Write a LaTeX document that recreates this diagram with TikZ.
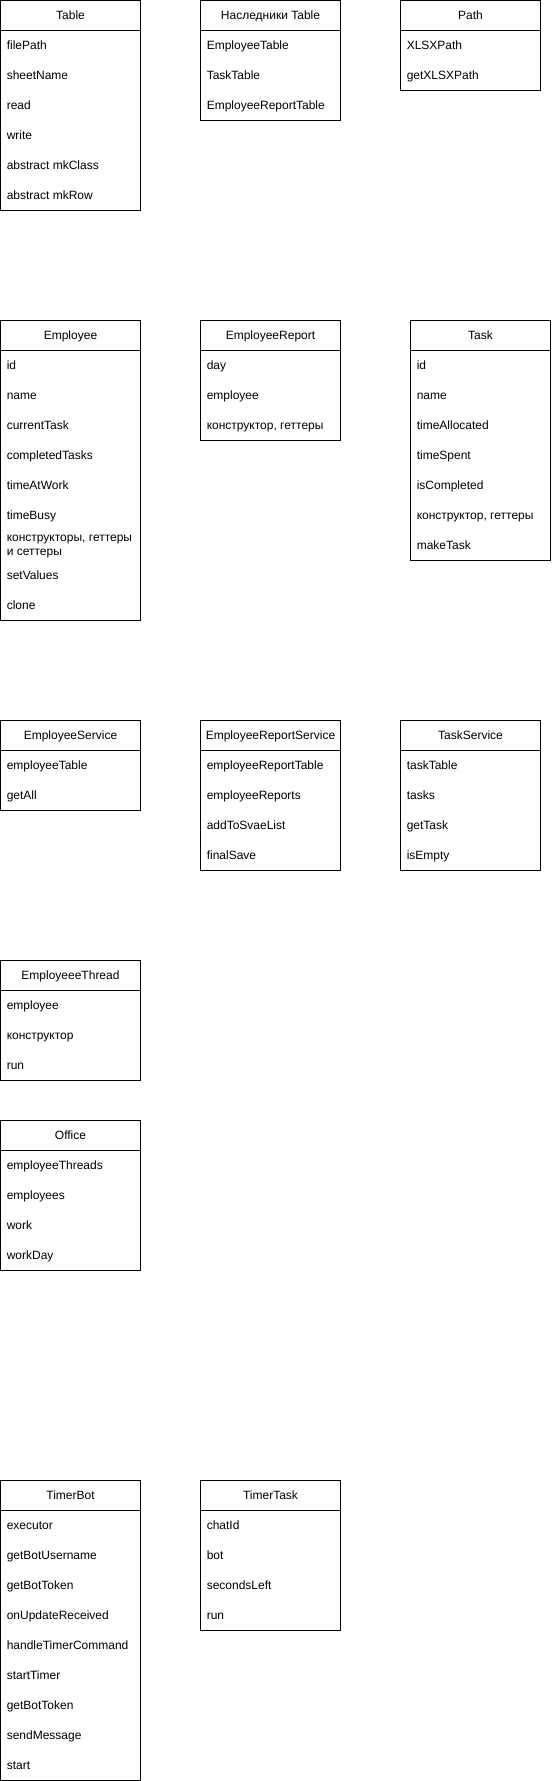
\documentclass[tikz,border=0pt]{standalone}
\usepackage{fontspec}
\setmainfont{Liberation Sans}
\usepackage{tikz}
\usetikzlibrary{positioning}

\tikzset{
    kopf/.style = {draw, line width = 0.75pt, anchor = north west, minimum width = 105pt, minimum height = 22.5pt, inner sep = 0pt, outer sep = 0pt, text height = 6.8pt, text depth = 1.4pt, font = \fontsize{9}{10.5}\selectfont},
    feld/.style = {anchor = west, inner sep = 0pt, text height = 6.8pt, text depth = 1.4pt, font = \fontsize{9}{10.5}\selectfont},
    rahmen/.style = {line width = 0.75pt}
}

\begin{document}
\begin{tikzpicture}[x = 0.75pt, y = -0.75pt]
    % Größe der Bildumgebung
        \useasboundingbox (-0.5, -0.5) rectangle (550.5, 1780.5);

    % Table
        \node[kopf] (table) at (0, 0) {Table};
        \draw[rahmen] (table.south west) rectangle ++(140, 180);
        \node[feld] (table-1) at (6, 45) {filePath};
        \node[feld] (table-2) at (6, 75) {sheetName};
        \node[feld] (table-3) at (6, 105) {read};
        \node[feld] (table-4) at (6, 135) {write};
        \node[feld] (table-5) at (6, 165) {abstract mkClass};
        \node[feld] (table-6) at (6, 195) {abstract mkRow};

    % Наследники Table
        \node[kopf] (erben) at (200, 0) {Наследники Table};
        \draw[rahmen] (erben.south west) rectangle ++(140, 90);
        \node[feld] (erben-1) at (206, 45) {EmployeeTable};
        \node[feld] (erben-2) at (206, 75) {TaskTable};
        \node[feld] (erben-3) at (206, 105) {EmployeeReportTable};

    % Path
        \node[kopf] (path) at (400, 0) {Path};
        \draw[rahmen] (path.south west) rectangle ++(140, 60);
        \node[feld] (path-1) at (406, 45) {XLSXPath};
        \node[feld] (path-2) at (406, 75) {getXLSXPath};

    % Employee
        \node[kopf] (employee) at (0, 320) {Employee};
        \draw[rahmen] (employee.south west) rectangle ++(140, 270);
        \node[feld] (employee-1) at (6, 365) {id};
        \node[feld] (employee-2) at (6, 395) {name};
        \node[feld] (employee-3) at (6, 425) {currentTask};
        \node[feld] (employee-4) at (6, 455) {completedTasks};
        \node[feld] (employee-5) at (6, 485) {timeAtWork};
        \node[feld] (employee-6) at (6, 515) {timeBusy};
        \node[feld, text height = , text depth = , align = left] (employee-7) at (6, 546) {конструкторы, геттеры\\и сеттеры};
        \node[feld] (employee-8) at (6, 575) {setValues};
        \node[feld] (employee-9) at (6, 605) {clone};

    % EmployeeReport
        \node[kopf] (report) at (200, 320) {EmployeeReport};
        \draw[rahmen] (report.south west) rectangle ++(140, 90);
        \node[feld] (report-1) at (206, 365) {day};
        \node[feld] (report-2) at (206, 395) {employee};
        \node[feld] (report-3) at (206, 425) {конструктор, геттеры};

    % Task
        \node[kopf] (task) at (410, 320) {Task};
        \draw[rahmen] (task.south west) rectangle ++(140, 210);
        \node[feld] (task-1) at (416, 365) {id};
        \node[feld] (task-2) at (416, 395) {name};
        \node[feld] (task-3) at (416, 425) {timeAllocated};
        \node[feld] (task-4) at (416, 455) {timeSpent};
        \node[feld] (task-5) at (416, 485) {isCompleted};
        \node[feld] (task-6) at (416, 515) {конструктор, геттеры};
        \node[feld] (task-7) at (416, 545) {makeTask};

    % EmployeeService
        \node[kopf] (empservice) at (0, 720) {EmployeeService};
        \draw[rahmen] (empservice.south west) rectangle ++(140, 60);
        \node[feld] (empservice-1) at (6, 765) {employeeTable};
        \node[feld] (empservice-2) at (6, 795) {getAll};

    % EmployeeReportService
        \node[kopf] (repservice) at (200, 720) {EmployeeReportService};
        \draw[rahmen] (repservice.south west) rectangle ++(140, 120);
        \node[feld] (repservice-1) at (206, 765) {employeeReportTable};
        \node[feld] (repservice-2) at (206, 795) {employeeReports};
        \node[feld] (repservice-3) at (206, 825) {addToSvaeList};
        \node[feld] (repservice-4) at (206, 855) {finalSave};

    % TaskService
        \node[kopf] (taskservice) at (400, 720) {TaskService};
        \draw[rahmen] (taskservice.south west) rectangle ++(140, 120);
        \node[feld] (taskservice-1) at (406, 765) {taskTable};
        \node[feld] (taskservice-2) at (406, 795) {tasks};
        \node[feld] (taskservice-3) at (406, 825) {getTask};
        \node[feld] (taskservice-4) at (406, 855) {isEmpty};

    % EmployeeeThread
        \node[kopf] (thread) at (0, 960) {EmployeeeThread};
        \draw[rahmen] (thread.south west) rectangle ++(140, 90);
        \node[feld] (thread-1) at (6, 1005) {employee};
        \node[feld] (thread-2) at (6, 1035) {конструктор};
        \node[feld] (thread-3) at (6, 1065) {run};

    % Office
        \node[kopf] (office) at (0, 1120) {Office};
        \draw[rahmen] (office.south west) rectangle ++(140, 120);
        \node[feld] (office-1) at (6, 1165) {employeeThreads};
        \node[feld] (office-2) at (6, 1195) {employees};
        \node[feld] (office-3) at (6, 1225) {work};
        \node[feld] (office-4) at (6, 1255) {workDay};

    % TimerBot
        \node[kopf] (bot) at (0, 1480) {TimerBot};
        \draw[rahmen] (bot.south west) rectangle ++(140, 270);
        \node[feld] (bot-1) at (6, 1525) {executor};
        \node[feld] (bot-2) at (6, 1555) {getBotUsername};
        \node[feld] (bot-3) at (6, 1585) {getBotToken};
        \node[feld] (bot-4) at (6, 1615) {onUpdateReceived};
        \node[feld] (bot-5) at (6, 1645) {handleTimerCommand};
        \node[feld] (bot-6) at (6, 1675) {startTimer};
        \node[feld] (bot-7) at (6, 1705) {getBotToken};
        \node[feld] (bot-8) at (6, 1735) {sendMessage};
        \node[feld] (bot-9) at (6, 1765) {start};

    % TimerTask
        \node[kopf] (timer) at (200, 1480) {TimerTask};
        \draw[rahmen] (timer.south west) rectangle ++(140, 120);
        \node[feld] (timer-1) at (206, 1525) {chatId};
        \node[feld] (timer-2) at (206, 1555) {bot};
        \node[feld] (timer-3) at (206, 1585) {secondsLeft};
        \node[feld] (timer-4) at (206, 1615) {run};
    \end{tikzpicture}
\end{document}
